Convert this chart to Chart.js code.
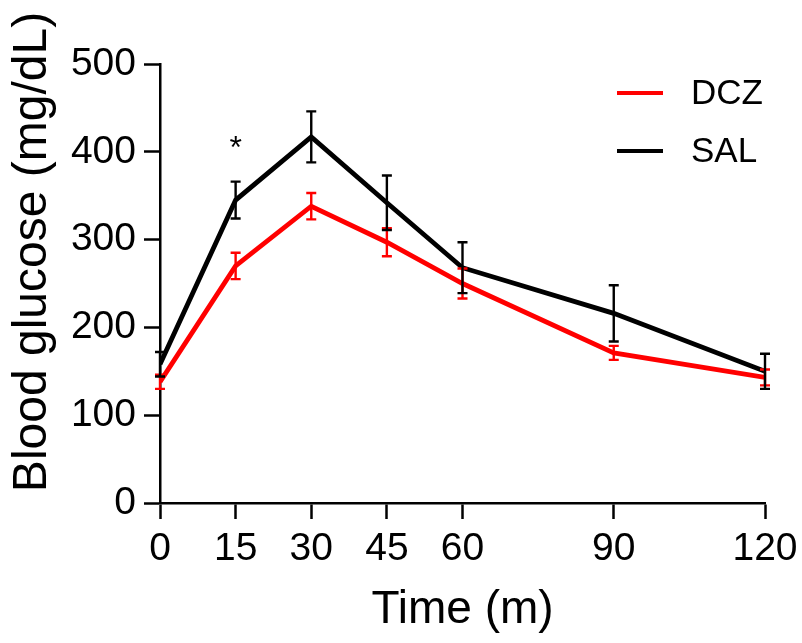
<!DOCTYPE html>
<html lang="en">
<head>
  <meta charset="UTF-8" />
  <title>Blood glucose</title>
  <script src="https://cdn.jsdelivr.net/npm/chart.js"></script>
  <style>
    html, body { margin: 0; padding: 0; background: #fff; }
    #wrap { width: 802px; height: 643px; }
  </style>
</head>
<body>
<div id="wrap"><canvas id="glucoseChart" width="802" height="643"></canvas></div>
<script>
  // data
  const times = [0, 15, 30, 45, 60, 90, 120];
  const xTicks = [0, 15, 30, 45, 60, 90, 120];
  const yTicks = [0, 100, 200, 300, 400, 500];
  const dczMean = [138, 270, 338, 297, 250, 171, 143];
  const dczErr = [8, 15, 15, 16, 17, 8, 9];
  const salMean = [158, 345, 417, 342, 268, 216, 150];
  const salErr = [14, 21, 29, 31, 29, 32, 20];
  const starAt = [15, 405];
  const yTitle = 'Blood glucose (mg/dL)';

  const FONT = "'Liberation Sans', Arial, sans-serif";

  function toPoints(xs, ys) {
    return xs.map((x, i) => ({ x: x, y: ys[i] }));
  }

  // error bars + asterisk
  const errorBars = {
    id: 'errorBars',
    afterDatasetsDraw(chart) {
      const ctx = chart.ctx;
      const xs = chart.scales.x, ys = chart.scales.y;
      chart.data.datasets.forEach(ds => {
        ctx.save();
        ctx.strokeStyle = ds.borderColor;
        ctx.lineWidth = 2.4;
        ds.errors.forEach((e, i) => {
          const px = xs.getPixelForValue(ds.data[i].x);
          const top = ys.getPixelForValue(ds.data[i].y + e);
          const bot = ys.getPixelForValue(ds.data[i].y - e);
          ctx.beginPath();
          ctx.moveTo(px, top); ctx.lineTo(px, bot);
          ctx.moveTo(px - 5, top); ctx.lineTo(px + 5, top);
          ctx.moveTo(px - 5, bot); ctx.lineTo(px + 5, bot);
          ctx.stroke();
        });
        ctx.restore();
      });
      ctx.save();
      ctx.fillStyle = '#000';
      ctx.font = '32px ' + FONT;
      ctx.textAlign = 'center';
      ctx.textBaseline = 'middle';
      ctx.fillText('*', xs.getPixelForValue(starAt[0]), ys.getPixelForValue(starAt[1]) + 2);
      ctx.restore();
    }
  };

  // legend in the top right corner + rotated y title
  const cornerLegend = {
    id: 'cornerLegend',
    afterDraw(chart) {
      const ctx = chart.ctx;
      ctx.save();
      ctx.font = '35px ' + FONT;
      ctx.textBaseline = 'middle';
      chart.data.datasets.forEach((ds, i) => {
        const y = 93 + i * 58;
        ctx.strokeStyle = ds.borderColor;
        ctx.lineWidth = 4;
        ctx.beginPath();
        ctx.moveTo(617, y); ctx.lineTo(663, y);
        ctx.stroke();
        ctx.fillStyle = '#000';
        ctx.fillText(ds.label, 691, y + 1);
      });
      ctx.restore();

      ctx.save();
      ctx.translate(33, 252);
      ctx.rotate(-Math.PI / 2);
      ctx.font = '48px ' + FONT;
      ctx.fillStyle = '#000';
      ctx.textAlign = 'center';
      ctx.textBaseline = 'middle';
      ctx.fillText(yTitle, 0, 0);
      ctx.restore();
    }
  };

  new Chart(document.getElementById('glucoseChart'), {
    type: 'line',
    data: {
      datasets: [
        { label: 'DCZ', data: toPoints(times, dczMean), errors: dczErr,
          borderColor: '#ff0000', borderWidth: 4.8, pointRadius: 0, order: 2 },
        { label: 'SAL', data: toPoints(times, salMean), errors: salErr,
          borderColor: '#000000', borderWidth: 4.8, pointRadius: 0, order: 1 }
      ]
    },
    options: {
      responsive: false,
      animation: false,
      layout: { padding: { top: 64, right: 0, left: 0, bottom: 0 } },
      plugins: { legend: { display: false }, tooltip: { enabled: false } },
      scales: {
        x: {
          type: 'linear', min: 0, max: 120,
          afterBuildTicks: s => { s.ticks = xTicks.map(v => ({ value: v })); },
          afterFit: s => { s.height = 140; s.paddingRight = 37; s.paddingLeft = 0; },
          grid: { drawOnChartArea: false, tickLength: 16, tickWidth: 2.5, tickColor: '#000' },
          border: { color: '#000', width: 2.5 },
          ticks: { color: '#000', font: { family: FONT, size: 39 }, padding: 7, maxRotation: 0 },
          title: { display: true, text: 'Time (m)', color: '#000',
                   font: { family: FONT, size: 46 }, padding: { top: 0, bottom: 5 } }
        },
        y: {
          min: 0, max: 500,
          afterBuildTicks: s => { s.ticks = yTicks.map(v => ({ value: v })); },
          afterFit: s => { s.width = 160; s.paddingTop = 0; s.paddingBottom = 0; },
          grid: { drawOnChartArea: false, tickLength: 16, tickWidth: 2.5, tickColor: '#000' },
          border: { color: '#000', width: 2.5 },
          ticks: { color: '#000', font: { family: FONT, size: 39 }, padding: 8 }
        }
      }
    },
    plugins: [errorBars, cornerLegend]
  });
</script>
</body>
</html>
